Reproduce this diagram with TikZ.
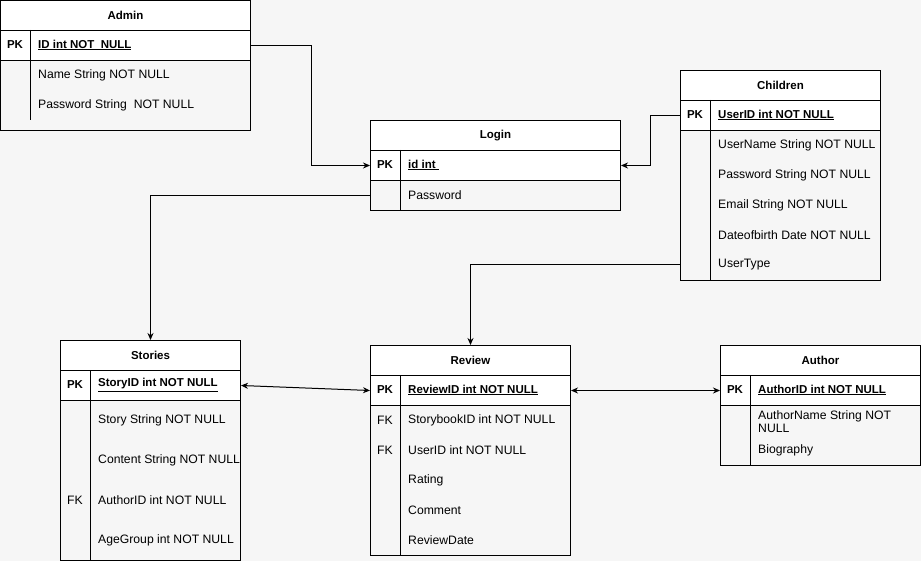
\documentclass[tikz,border=0pt]{standalone}
\usepackage{fontspec}
\setmainfont{Liberation Sans}
\usetikzlibrary{arrows.meta,positioning}
\definecolor{bgcol}{HTML}{F6F6F6}
\newcommand\tabfont{\fontsize{12.2}{13.5}\selectfont}
\newcommand\keyfont{\fontsize{11.5}{13.5}\selectfont\bfseries}
\tikzset{
  head/.style={draw, line width=1pt, fill=white, font=\keyfont, minimum height=30, inner sep=0pt, anchor=north west},
  pkrow/.style={draw, line width=1pt, fill=white, minimum height=30, inner sep=0pt, anchor=north west},
  bodyrow/.style={draw, line width=1pt, inner sep=0pt, anchor=north west},
  key/.style={font=\keyfont, inner sep=0pt},
  fkey/.style={font=\tabfont, inner sep=0pt},
  field/.style={font=\tabfont, anchor=west, inner sep=0pt},
  pkfield/.style={field, font=\keyfont},
  sep/.style={line width=1pt},
  link/.style={line width=1pt, -{Stealth[length=7pt,width=6pt]}},
  both/.style={line width=1pt, {Stealth[length=7pt,width=6pt]}-{Stealth[length=7pt,width=6pt]}}
}
\begin{document}
\begin{tikzpicture}[x=1pt,y=-1pt]
\fill[bgcol] (0,0) rectangle (921,561);
\useasboundingbox (0,0) rectangle (921,561);

% Admin
\node[head, minimum width=250] (admin) at (0,0) {Admin};
\node[pkrow, minimum width=250] (adminpk) at (0,30) {};
\node[bodyrow, minimum width=250, minimum height=70] (adminbody) at (0,60) {};
\draw[sep] (30,30) -- (30,120);
\node[key] (adminkey) at (15,45) {PK};
\node[pkfield] (adminid) at (38,45) {\underline{ID int NOT\ \ NULL}};
\node[field] (adminname) at (38,75) {Name String NOT NULL};
\node[field] (adminpass) at (38,105) {Password String\ \ NOT NULL};

% Login
\node[head, minimum width=250] (login) at (370,120) {Login};
\node[pkrow, minimum width=250] (loginpk) at (370,150) {};
\node[bodyrow, minimum width=250, minimum height=30] (loginbody) at (370,180) {};
\draw[sep] (400,150) -- (400,210);
\node[key] (loginkey) at (385,165) {PK};
\node[pkfield] (loginid) at (408,165) {\underline{id int\ }};
\node[field] (loginpass) at (408,195) {Password};

% Children
\node[head, minimum width=200] (children) at (680,70) {Children};
\node[pkrow, minimum width=200] (childrenpk) at (680,100) {};
\node[bodyrow, minimum width=200, minimum height=150] (childrenbody) at (680,130) {};
\draw[sep] (710,100) -- (710,280);
\node[key] (childrenkey) at (695,115) {PK};
\node[pkfield] (chid) at (718,115) {\underline{UserID int NOT NULL}};
\node[field] (chname) at (718,145) {UserName String NOT NULL};
\node[field] (chpass) at (718,175) {Password String NOT NULL};
\node[field] (chmail) at (718,205) {Email String NOT NULL};
\node[field] (chbirth) at (718,235) {Dateofbirth Date NOT NULL};
\node[field] (chtype) at (718,265) {UserType};

% Stories
\node[head, minimum width=180] (stories) at (60,340) {Stories};
\node[pkrow, minimum width=180] (storiespk) at (60,370) {};
\node[bodyrow, minimum width=180, minimum height=160] (storiesbody) at (60,400) {};
\draw[sep] (90,370) -- (90,560);
\node[key] (storieskey) at (75,385) {PK};
\node[pkfield] (stid) at (98,385) {\underline{StoryID int NOT NULL}};
\node[field] (ststory) at (98,420) {Story String NOT NULL};
\node[field] (stcontent) at (98,460) {Content String NOT NULL};
\node[fkey] (stfk) at (75,500) {FK};
\node[field] (stauthor) at (98,500) {AuthorID int NOT NULL};
\node[field] (stage) at (98,540) {AgeGroup int NOT NULL};

% Review
\node[head, minimum width=200] (review) at (370,345) {Review};
\node[pkrow, minimum width=200] (reviewpk) at (370,375) {};
\node[bodyrow, minimum width=200, minimum height=150] (reviewbody) at (370,405) {};
\draw[sep] (400,375) -- (400,555);
\node[key] (reviewkey) at (385,390) {PK};
\node[pkfield] (rvid) at (408,390) {\underline{ReviewID int NOT NULL}};
\node[fkey] (rvfk1) at (385,420) {FK};
\node[field] (rvbook) at (408,420) {StorybookID int NOT NULL};
\node[fkey] (rvfk2) at (385,450) {FK};
\node[field] (rvuser) at (408,450) {UserID int NOT NULL};
\node[field] (rvrating) at (408,480) {Rating};
\node[field] (rvcomment) at (408,510) {Comment};
\node[field] (rvdate) at (408,540) {ReviewDate};

% Author
\node[head, minimum width=200] (author) at (720,345) {Author};
\node[pkrow, minimum width=200] (authorpk) at (720,375) {};
\node[bodyrow, minimum width=200, minimum height=60] (authorbody) at (720,405) {};
\draw[sep] (750,375) -- (750,465);
\node[key] (authorkey) at (735,390) {PK};
\node[pkfield] (auid) at (758,390) {\underline{AuthorID int NOT NULL}};
\node[field, align=left] (auname) at (758,421.5) {AuthorName String NOT\\NULL};
\node[field] (aubio) at (758,450) {Biography};

% links
\coordinate (usertype) at (childrenbody.west |- chtype.west);
\draw[link] (adminpk.east) -- ++(60,0) |- (loginpk.west);
\draw[link] (childrenpk.west) -- ++(-30,0) |- (loginpk.east);
\draw[link] (loginbody.west) -| (stories.north);
\draw[link] (usertype) -| (review.north);
\draw[both] (storiespk.east) -- (reviewpk.west);
\draw[both] (reviewpk.east) -- (authorpk.west);

\end{tikzpicture}
\end{document}
